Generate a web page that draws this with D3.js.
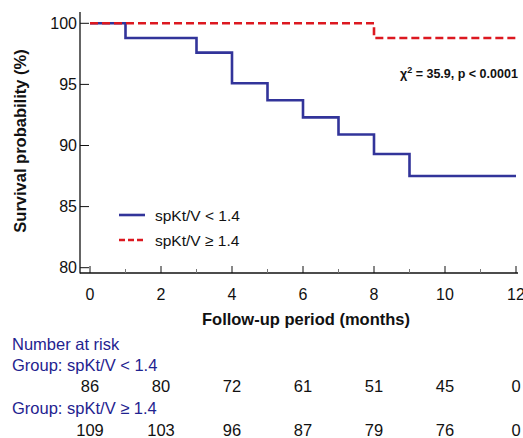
<!DOCTYPE html>
<html><head><meta charset="utf-8">
<script src="https://cdn.jsdelivr.net/npm/d3@7"></script>
<style>body{margin:0;background:#fff}svg{display:block;font-family:"Liberation Sans",Arial,sans-serif}</style>
</head><body><svg id="c" width="523" height="438"></svg>
<script>
const lowTimes = [0, 1, 3, 4, 5, 6, 7, 8, 9, 12];
const lowSurv  = [100, 98.8, 97.6, 95.1, 93.7, 92.3, 90.9, 89.3, 87.5, 87.5];
const highTimes = [0, 8, 12.05];
const highSurv  = [100, 98.8, 98.8];
const xTicks = [0, 2, 4, 6, 8, 10, 12];
const xMinor = [1, 3, 5, 7, 9, 11];
const yTicks = [80, 85, 90, 95, 100];
const riskTimes = [0, 2, 4, 6, 8, 10, 12];
const riskLow  = [86, 80, 72, 61, 51, 45, 0];
const riskHigh = [109, 103, 96, 87, 79, 76, 0];
const seriesNames = ["spKt/V < 1.4", "spKt/V \u2265 1.4"];

const svg = d3.select("#c");
const x = d3.scaleLinear().domain([0, 12]).range([90, 516]);
const y = d3.scaleLinear().domain([80, 100]).range([267.7, 23.3]);
const axisY = 273, axisX = 80;

svg.append("line").attr("x1", axisX).attr("x2", axisX).attr("y1", 12).attr("y2", axisY + 0.5)
  .attr("stroke", "#111").attr("stroke-width", 1.3);
svg.append("line").attr("x1", axisX).attr("x2", 518).attr("y1", axisY).attr("y2", axisY)
  .attr("stroke", "#111").attr("stroke-width", 1.3);

yTicks.forEach(v => {
  svg.append("line").attr("x1", axisX).attr("x2", axisX + 9).attr("y1", y(v)).attr("y2", y(v))
    .attr("stroke", "#111").attr("stroke-width", 1);
  svg.append("text").attr("x", axisX - 3).attr("y", y(v)).attr("dy", "0.36em")
    .attr("text-anchor", "end").attr("font-size", 16).attr("fill", "#111").text(v);
});
xTicks.forEach(v => {
  svg.append("line").attr("x1", x(v)).attr("x2", x(v)).attr("y1", axisY).attr("y2", axisY - 7)
    .attr("stroke", "#111").attr("stroke-width", 1);
  svg.append("text").attr("x", x(v)).attr("y", 294).attr("dy", "0.36em")
    .attr("text-anchor", "middle").attr("font-size", 16).attr("fill", "#111").text(v);
});
xMinor.forEach(v => {
  svg.append("line").attr("x1", x(v)).attr("x2", x(v)).attr("y1", axisY).attr("y2", axisY - 4)
    .attr("stroke", "#777").attr("stroke-width", 1);
});

svg.append("text").attr("transform", "translate(26,141) rotate(-90)")
  .attr("text-anchor", "middle").attr("font-size", 16.5).attr("font-weight", "bold").attr("fill", "#111")
  .text("Survival probability (%)");
svg.append("text").attr("x", 306).attr("y", 319).attr("dy", "0.36em")
  .attr("text-anchor", "middle").attr("font-size", 16.5).attr("font-weight", "bold").attr("fill", "#111")
  .text("Follow-up period (months)");

const line = d3.line().x(d => x(d[0])).y(d => y(d[1])).curve(d3.curveStepAfter);
const lowData = lowTimes.map((t, i) => [t, lowSurv[i]]);
const highData = highTimes.map((t, i) => [t, highSurv[i]]);
svg.append("path").datum(lowData).attr("d", line).attr("fill", "none")
  .attr("stroke", "#32349a").attr("stroke-width", 2.6);
svg.append("path").datum(highData).attr("d", line).attr("fill", "none")
  .attr("stroke", "#dc1820").attr("stroke-width", 2.6).attr("stroke-dasharray", "8,4");

const ann = svg.append("text").attr("x", 400).attr("y", 78).attr("font-size", 12.5)
  .attr("font-weight", "bold").attr("fill", "#111");
ann.append("tspan").text("\u03c7");
ann.append("tspan").attr("font-size", 9).attr("dy", -5).text("2");
ann.append("tspan").attr("dy", 5).text(" = 35.9, p < 0.0001");

const leg = [{c: "#32349a", d: null}, {c: "#dc1820", d: "6,3"}];
leg.forEach((l, i) => {
  const ly = 215 + i * 25;
  svg.append("line").attr("x1", 119).attr("x2", 145).attr("y1", ly).attr("y2", ly)
    .attr("stroke", l.c).attr("stroke-width", 2.6).attr("stroke-dasharray", l.d);
  svg.append("text").attr("x", 155).attr("y", ly).attr("dy", "0.36em")
    .attr("font-size", 15.5).attr("fill", "#111").text(seriesNames[i]);
});

const navy = "#1f2390";
svg.append("text").attr("x", 12).attr("y", 344).attr("dy", "0.36em").attr("font-size", 16.5)
  .attr("fill", navy).text("Number at risk");
svg.append("text").attr("x", 12).attr("y", 365).attr("dy", "0.36em").attr("font-size", 16.5)
  .attr("fill", navy).text("Group: " + seriesNames[0]);
svg.append("text").attr("x", 12).attr("y", 408).attr("dy", "0.36em").attr("font-size", 16.5)
  .attr("fill", navy).text("Group: " + seriesNames[1]);
riskTimes.forEach((t, i) => {
  svg.append("text").attr("x", x(t)).attr("y", 386).attr("dy", "0.36em").attr("text-anchor", "middle")
    .attr("font-size", 16.5).attr("fill", "#111").text(riskLow[i]);
  svg.append("text").attr("x", x(t)).attr("y", 430).attr("dy", "0.36em").attr("text-anchor", "middle")
    .attr("font-size", 16.5).attr("fill", "#111").text(riskHigh[i]);
});
</script></body></html>
